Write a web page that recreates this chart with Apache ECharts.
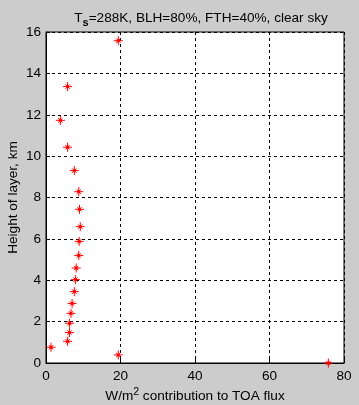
<!DOCTYPE html>
<html><head><meta charset="utf-8">
<script src="https://cdn.jsdelivr.net/npm/echarts@6/dist/echarts.min.js"></script>
<style>html,body{margin:0;padding:0;background:#cccccc}#c{width:359px;height:405px}</style>
</head><body><div id="c"></div>
<script>
const fluxValues = [75.8, 19.4, 1.35, 5.8, 6.3, 6.3, 6.7, 7.0, 7.6, 7.9, 8.1, 8.8, 8.9, 9.2, 9.0, 8.8, 7.6, 5.8, 3.85, 5.8, 19.4];
const heightValues = [0.0, 0.39, 0.76, 1.05, 1.47, 1.92, 2.40, 2.88, 3.45, 4.03, 4.59, 5.2, 5.88, 6.59, 7.43, 8.28, 9.3, 10.43, 11.73, 13.36, 15.58];
const xTicks = [0, 20, 40, 60, 80];
const yTicks = [0, 2, 4, 6, 8, 10, 12, 14, 16];

const data = fluxValues.map((v, i) => [v, heightValues[i]]);
const star = 'path://M5 0 L5 10 M0 5 L10 5 M2.6 2.6 L7.4 7.4 M7.4 2.6 L2.6 7.4 M4 4 L6 4 L6 6 L4 6 Z';
const font = 'Liberation Sans, Arial, sans-serif';
const chart = echarts.init(document.getElementById('c'), null, {renderer: 'canvas'});
chart.setOption({
  backgroundColor: '#cccccc',
  animation: false,
  title: {
    text: '{n|T}{s|s}{n|=288K, BLH=80%, FTH=40%, clear sky}',
    left: 196, top: 3, textAlign: 'center',
    textStyle: {rich: {
      n: {fontFamily: font, fontSize: 13.6, color: '#000', fontWeight: 'normal'},
      s: {fontFamily: font, fontSize: 11, color: '#000', verticalAlign: 'bottom', padding: [9, 0, 0, 0]}
    }}
  },
  grid: {left: 46, right: 15, top: 32, bottom: 42, show: true, backgroundColor: '#fff', borderColor: '#000', borderWidth: 1, outerBoundsMode: 'none', containLabel: false},
  xAxis: {
    type: 'value', min: xTicks[0], max: xTicks[xTicks.length - 1], interval: 20,
    axisLine: {show: true, lineStyle: {color: '#000'}},
    axisTick: {show: true, inside: true, length: 4, lineStyle: {color: '#000'}},
    axisLabel: {color: '#000', fontFamily: font, fontSize: 13.6, margin: 6},
    splitLine: {show: true, lineStyle: {color: '#000', type: [3, 3], width: 1}},
    name: '{n|W/m}{s|2}{n| contribution to TOA flux}', nameLocation: 'middle', nameGap: 24,
    nameMoveOverlap: false,
    nameTextStyle: {rich: {
      n: {fontFamily: font, fontSize: 13.6, color: '#000'},
      s: {fontFamily: font, fontSize: 10.5, color: '#000', verticalAlign: 'top', padding: [0, 0, 8, 0]}
    }}
  },
  yAxis: {
    type: 'value', min: yTicks[0], max: yTicks[yTicks.length - 1], interval: 2,
    axisLine: {show: true, lineStyle: {color: '#000'}},
    axisTick: {show: true, inside: true, length: 4, lineStyle: {color: '#000'}},
    axisLabel: {color: '#000', fontFamily: font, fontSize: 13.6, margin: 5},
    splitLine: {show: true, lineStyle: {color: '#000', type: [3, 3], width: 1}},
    name: 'Height of layer, km', nameLocation: 'middle', nameGap: 26,
    nameMoveOverlap: false,
    nameTextStyle: {fontFamily: font, fontSize: 13.6, color: '#000'}
  },
  series: [{
    type: 'scatter', data: data, symbol: star, symbolSize: 9,
    itemStyle: {color: '#ff0000', borderColor: '#ff0000', borderWidth: 1, opacity: 1},
    clip: false
  }]
});
</script></body></html>
